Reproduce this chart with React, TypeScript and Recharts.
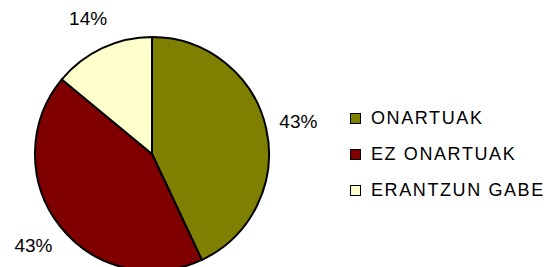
import { PieChart, Pie, Cell, Legend } from 'recharts';

const categories = ['ONARTUAK', 'EZ ONARTUAK', 'ERANTZUN GABE'];
const values = [43, 43, 14];
const labels = ['43%', '43%', '14%'];
const colors = ['#808000', '#800000', '#FFFFCC'];

const data = categories.map((name, i) => ({ name, value: values[i], label: labels[i] }));

const RADIAN = Math.PI / 180;

// label placed outside each slice, centred on its mid angle
const renderLabel = (props: any) => {
  const { cx, cy, midAngle, outerRadius, index } = props;
  const r = outerRadius + 33;
  const x = cx + r * Math.cos(-midAngle * RADIAN);
  const y = cy + r * Math.sin(-midAngle * RADIAN);
  return (
    <text
      x={x}
      y={y}
      fill="#000"
      textAnchor="middle"
      dominantBaseline="central"
      fontSize={19}
      fontFamily="'Liberation Sans', Arial, sans-serif"
    >
      {labels[index]}
    </text>
  );
};

const renderLegend = (props: any) => {
  // keep the legend in the data order, not the sorted one
  const payload = [...(props.payload || [])].sort(
    (a: any, b: any) => categories.indexOf(a.value) - categories.indexOf(b.value)
  );
  return (
    <div style={{ fontFamily: "'Liberation Sans', Arial, sans-serif" }}>
      {payload.map((entry: any, i: number) => (
        <div key={`leg-${i}`} style={{ display: 'flex', alignItems: 'center', height: 36 }}>
          <span
            style={{
              display: 'inline-block',
              width: 9,
              height: 9,
              background: entry.color,
              border: '1px solid #000',
              marginRight: 10,
            }}
          />
          <span style={{ fontSize: 18, letterSpacing: 1.6, color: '#000' }}>{entry.value}</span>
        </div>
      ))}
    </div>
  );
};

export default function App() {
  return (
    <div style={{ position: 'absolute', left: 0, top: 0, background: '#fff' }}>
      <PieChart width={549} height={267} margin={{ top: 0, right: 0, bottom: 0, left: 0 }}>
        <Pie
          data={data}
          dataKey="value"
          nameKey="name"
          cx={152}
          cy={154}
          outerRadius={117}
          startAngle={90}
          endAngle={-270}
          stroke="#000"
          strokeWidth={2}
          label={renderLabel}
          labelLine={false}
          isAnimationActive={false}
        >
          {data.map((d, i) => (
            <Cell key={d.name} fill={colors[i]} stroke="#000" strokeWidth={2} />
          ))}
        </Pie>
        <Legend
          layout="vertical"
          content={renderLegend}
          wrapperStyle={{ position: 'absolute', left: 350, top: 100, width: 199 }}
        />
      </PieChart>
    </div>
  );
}
